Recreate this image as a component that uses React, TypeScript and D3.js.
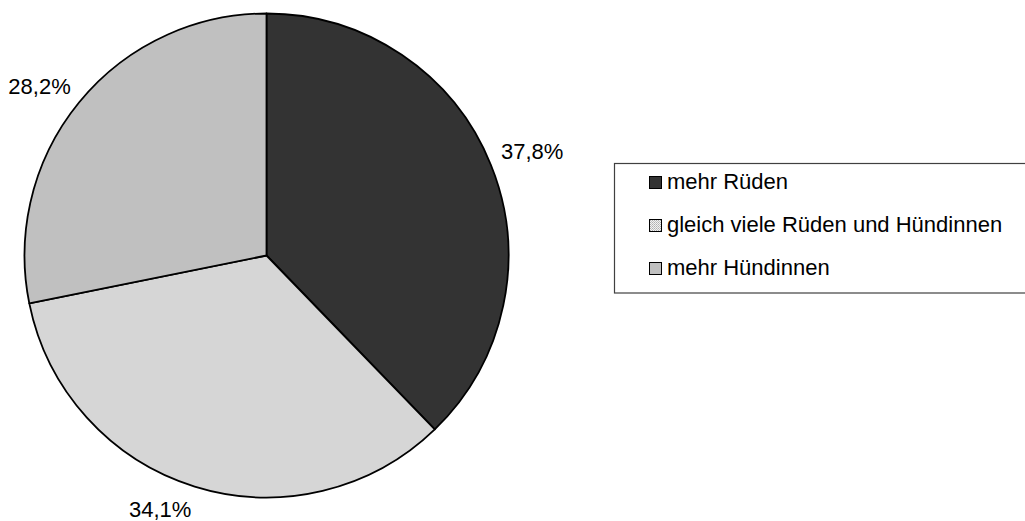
import React from "react";
import * as d3 from "d3";

const categories = ["mehr Rüden", "gleich viele Rüden und Hündinnen", "mehr Hündinnen"];
const values = [37.8, 34.1, 28.2];
const labels = ["37,8%", "34,1%", "28,2%"];
const fills = ["#333333", "url(#dots)", "#c0c0c0"];

const W = 1025;
const H = 521;
const FONT = "'Liberation Sans', Arial, sans-serif";
const FS = 22;

export default function App() {
  const cx = 266.5;
  const cy = 255.5;
  const r = 242;
  const pie = d3.pie<number>().sort(null).value((d) => d)(values);
  const arc = d3.arc<d3.PieArcDatum<number>>().innerRadius(0).outerRadius(r);

  const ascent = FS * 0.905;
  const descent = FS * 0.212;
  const gap = 11;

  const legendX = 614;
  const legendY = 163;
  const legendH = 129.5;
  const rowY = d3.scaleLinear().domain([0, 2]).range([189, 275]);

  return (
    <svg
      width={W}
      height={H}
      style={{ position: "absolute", left: 0, top: 0, background: "#fff" }}
    >
      <defs>
        <pattern id="dots" width={2} height={2} patternUnits="userSpaceOnUse">
          <rect width={2} height={2} fill="#f2f2f2" />
          <rect x={0} y={0} width={1} height={1} fill="#b0b0b0" />
          <rect x={1} y={1} width={1} height={1} fill="#c4c4c4" />
        </pattern>
      </defs>
      <rect width={W} height={H} fill="#fff" />
      <g transform={`translate(${cx},${cy})`}>
        {pie.map((p, i) => (
          <path
            key={i}
            d={arc(p) || ""}
            fill={fills[i]}
            stroke="#000"
            strokeWidth={1.8}
            strokeLinejoin="round"
          />
        ))}
        {pie.map((p, i) => {
          const a = (p.startAngle + p.endAngle) / 2;
          const R = r + gap;
          const px = R * Math.sin(a);
          const py = -R * Math.cos(a);
          const anchor = Math.sin(a) >= 0 ? "start" : "end";
          const baseline = Math.cos(a) > 0 ? py - descent + 3 : py + ascent;
          return (
            <text
              key={"l" + i}
              x={px}
              y={baseline}
              textAnchor={anchor}
              fontFamily={FONT}
              fontSize={FS}
              fill="#000"
            >
              {labels[i]}
            </text>
          );
        })}
      </g>
      <rect
        x={legendX + 0.5}
        y={legendY + 0.5}
        width={W - legendX + 10}
        height={legendH}
        fill="#fff"
        stroke="#404040"
        strokeWidth={1.2}
      />
      {categories.map((c, i) => (
        <g key={c}>
          <rect
            x={649.5}
            y={rowY(i) - 12.5}
            width={12}
            height={12}
            fill={fills[i]}
            stroke="#000"
            strokeWidth={1}
          />
          <text
            x={667}
            y={rowY(i)}
            fontFamily={FONT}
            fontSize={FS}
            fill="#000"
          >
            {c}
          </text>
        </g>
      ))}
    </svg>
  );
}
